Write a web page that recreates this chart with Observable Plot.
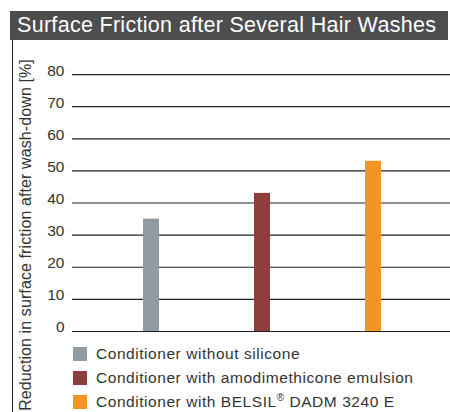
<!DOCTYPE html>
<html>
<head>
<meta charset="utf-8">
<script src="https://cdn.jsdelivr.net/npm/d3@7"></script>
<script src="https://cdn.jsdelivr.net/npm/@observablehq/plot@0.6"></script>
<style>
  html, body { margin: 0; padding: 0; background: #fff; }
  body { width: 450px; height: 412px; position: relative; overflow: hidden; font-family: "Liberation Sans", Arial, Helvetica, sans-serif; }
  #title { position: absolute; left: 10px; top: 11px; width: 438px; height: 29px; background: #4d4d4d; color: #fff; font-size: 21.5px; letter-spacing: 0.3px; line-height: 29px; padding-left: 7px; box-sizing: border-box; white-space: nowrap; }
  #border { position: absolute; left: 12px; top: 40px; width: 1px; height: 372px; background: #222; }
  #chart { position: absolute; left: 0; top: 40px; }
  #ylabel { position: absolute; left: 26px; top: 235px; transform: translate(-50%, -50%) rotate(-90deg); white-space: nowrap; font-size: 16px; letter-spacing: 0.1px; color: #333; }
  #legend { position: absolute; left: 73px; top: 342px; font-size: 15.5px; letter-spacing: 0.55px; color: #333; }
  .row { display: flex; align-items: center; height: 24px; }
  .sw { width: 14px; height: 14px; margin-right: 9px; flex: none; }
</style>
</head>
<body>
<div id="title"></div>
<div id="border"></div>
<div id="chart"></div>
<div id="ylabel"></div>
<div id="legend"></div>
<script>
const title = "Surface Friction after Several Hair Washes";
const yLabel = "Reduction in surface friction after wash-down [%]";
const categories = ["Conditioner without silicone", "Conditioner with amodimethicone emulsion", "Conditioner with BELSIL® DADM 3240 E"];
const values = [35, 43, 53];
const colors = ["#939ba2", "#8e3f3c", "#f39423"];
const yTicks = [0, 10, 20, 30, 40, 50, 60, 70, 80];

document.getElementById("title").textContent = title;
document.getElementById("ylabel").textContent = yLabel;

const data = categories.map((c, i) => ({category: c, value: values[i], color: colors[i]}));

const chart = Plot.plot({
  width: 450,
  height: 372,
  marginLeft: 72,
  marginRight: 0,
  marginTop: 0,
  marginBottom: 81,
  style: {fontFamily: "'Liberation Sans', Arial, sans-serif", color: "#333", background: "transparent"},
  x: {domain: categories, axis: null, insetLeft: 23.5, insetRight: 21.5, paddingInner: 0.856, paddingOuter: 0.428},
  y: {domain: [0, 90.6], axis: null},
  marks: [
    Plot.ruleY(yTicks, {stroke: "#222", strokeWidth: 1.2}),
    Plot.barY(data, {x: "category", y: "value", fill: "color"}),
    Plot.axisY({ticks: yTicks, tickSize: 0, line: true, stroke: "#222", tickPadding: 0, dx: -8, dy: -4, fontSize: 15.5, label: null, textAnchor: "end", color: "#333"}),
  ]
});
document.getElementById("chart").appendChild(chart);

const legend = document.getElementById("legend");
categories.forEach((c, i) => {
  const row = document.createElement("div");
  row.className = "row";
  const sw = document.createElement("div");
  sw.className = "sw";
  sw.style.background = colors[i];
  const t = document.createElement("span");
  if (c.includes("®")) {
    const parts = c.split("®");
    t.append(parts[0]);
    const sup = document.createElement("sup");
    sup.textContent = "®";
    sup.style.fontSize = "10px";
    sup.style.verticalAlign = "6px";
    sup.style.lineHeight = "0";
    t.append(sup);
    t.append(parts[1]);
  } else {
    t.textContent = c;
  }
  row.append(sw, t);
  legend.append(row);
});
</script>
</body>
</html>
